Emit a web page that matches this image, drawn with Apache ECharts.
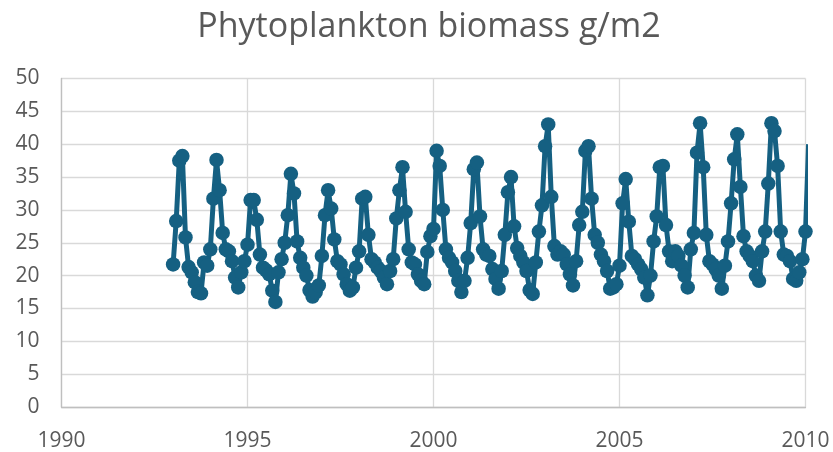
<!DOCTYPE html>
<html>
<head>
<meta charset="utf-8">
<script src="https://cdn.jsdelivr.net/npm/echarts@6/dist/echarts.min.js"></script>
<style>
  html, body { margin: 0; padding: 0; background: #fff; }
  #chart { width: 833px; height: 452px; }
</style>
</head>
<body>
<div id="chart"></div>
<script>
// monthly samples, first one at Jan 1993
const startYear = 1993;
const biomass1993 = [21.7, 28.3, 37.5, 38.2, 25.8, 21.3, 20.5, 19.0, 17.5, 17.3, 22.0, 21.5];
const biomass1994 = [24.0, 31.7, 37.6, 33.0, 26.5, 24.0, 23.7, 22.2, 19.7, 18.2, 20.5, 22.2];
const biomass1995 = [24.7, 31.5, 31.5, 28.5, 23.2, 21.2, 20.8, 20.2, 17.7, 16.0, 20.5, 22.5];
const biomass1996 = [25.0, 29.2, 35.5, 32.5, 25.2, 22.7, 21.2, 20.0, 17.8, 16.8, 17.5, 18.5];
const biomass1997 = [23.0, 29.2, 33.0, 30.2, 25.5, 22.2, 21.7, 20.2, 18.7, 17.7, 18.2, 21.2];
const biomass1998 = [23.7, 31.7, 32.0, 26.2, 22.5, 22.0, 21.2, 20.7, 19.7, 18.7, 20.7, 22.5];
const biomass1999 = [28.7, 33.0, 36.5, 29.7, 24.0, 22.0, 21.7, 20.2, 19.2, 18.7, 23.6, 26.0];
const biomass2000 = [27.1, 39.0, 36.7, 30.0, 24.0, 22.7, 22.0, 20.7, 19.2, 17.5, 19.2, 22.7];
const biomass2001 = [28.0, 36.2, 37.2, 29.0, 24.0, 23.2, 23.0, 21.0, 19.5, 18.0, 20.7, 26.2];
const biomass2002 = [32.7, 35.0, 27.5, 24.2, 23.0, 22.0, 20.7, 17.8, 17.2, 22.0, 26.7, 30.7];
const biomass2003 = [39.7, 43.0, 32.0, 24.5, 23.2, 23.7, 23.2, 21.7, 20.2, 18.5, 22.2, 27.7];
const biomass2004 = [29.7, 39.0, 39.7, 31.7, 26.2, 25.0, 23.2, 22.2, 20.7, 18.0, 18.2, 18.7];
const biomass2005 = [21.5, 31.0, 34.7, 28.2, 23.0, 22.5, 21.7, 21.0, 19.7, 17.0, 20.0, 25.2];
const biomass2006 = [29.0, 36.5, 36.7, 27.7, 23.7, 22.2, 23.7, 23.0, 21.5, 20.0, 18.2, 24.0];
const biomass2007 = [26.5, 38.7, 43.2, 36.5, 26.2, 22.2, 21.7, 21.0, 20.0, 18.0, 21.5, 25.2];
const biomass2008 = [31.0, 37.7, 41.5, 33.5, 26.0, 23.7, 23.0, 22.2, 20.0, 19.2, 23.7, 26.7];
const biomass2009 = [34.0, 43.2, 42.0, 36.7, 26.7, 23.2, 23.0, 22.2, 19.5, 19.2, 20.5, 22.5];
const biomass2010 = [26.7, 40.0];

const xTicks = [1990, 1995, 2000, 2005, 2010];
const yTicks = [0, 5, 10, 15, 20, 25, 30, 35, 40, 45, 50];

const yearly = [
    biomass1993, biomass1994, biomass1995, biomass1996, biomass1997, biomass1998,
    biomass1999, biomass2000, biomass2001, biomass2002, biomass2003, biomass2004,
    biomass2005, biomass2006, biomass2007, biomass2008, biomass2009, biomass2010
];

const points = [];
yearly.forEach((values, i) => {
    values.forEach((v, m) => points.push([startYear + i + m / 12, v]));
});

const textColor = '#595959';
const fontFamily = '"Open Sans", "Noto Sans", sans-serif';

const chart = echarts.init(document.getElementById('chart'), null, { renderer: 'canvas' });

const option = {
    animation: false,
    title: {
        text: 'Phytoplankton biomass g/m2',
        left: 424,
        textAlign: 'center',
        top: 5,
        textStyle: {
            color: textColor,
            fontFamily: fontFamily,
            fontSize: 34,
            fontWeight: 'normal'
        }
    },
    grid: {
        left: 61.5,
        right: 27.5,
        top: 78.5,
        bottom: 41
    },
    xAxis: {
        type: 'value',
        min: xTicks[0],
        max: xTicks[xTicks.length - 1],
        interval: xTicks[1] - xTicks[0],
        axisLine: { show: true, onZero: false, lineStyle: { color: '#bfbfbf', width: 1.3 } },
        axisTick: { show: false },
        splitLine: { show: true, lineStyle: { color: '#d9d9d9', width: 1.3 } },
        axisLabel: {
            color: textColor,
            fontFamily: fontFamily,
            fontSize: 21,
            margin: 24,
            formatter: v => String(v)
        }
    },
    yAxis: {
        type: 'value',
        min: yTicks[0],
        max: yTicks[yTicks.length - 1],
        interval: yTicks[1] - yTicks[0],
        axisLine: { show: true, lineStyle: { color: '#bfbfbf', width: 1.3 } },
        axisTick: { show: false },
        splitLine: { show: true, lineStyle: { color: '#d9d9d9', width: 1.3 } },
        axisLabel: {
            color: textColor,
            fontFamily: fontFamily,
            fontSize: 21,
            margin: 22
        }
    },
    series: [{
        type: 'line',
        data: points,
        clip: false,
        showAllSymbol: true,
        symbol: 'circle',
        // points beyond the axis end only carry the line off the chart
        symbolSize: val => (val[0] > xTicks[xTicks.length - 1] ? 0 : 14.5),
        itemStyle: { color: '#156082' },
        lineStyle: { color: '#156082', width: 5 },
        z: 3
    }]
};

chart.setOption(option);
</script>
</body>
</html>
